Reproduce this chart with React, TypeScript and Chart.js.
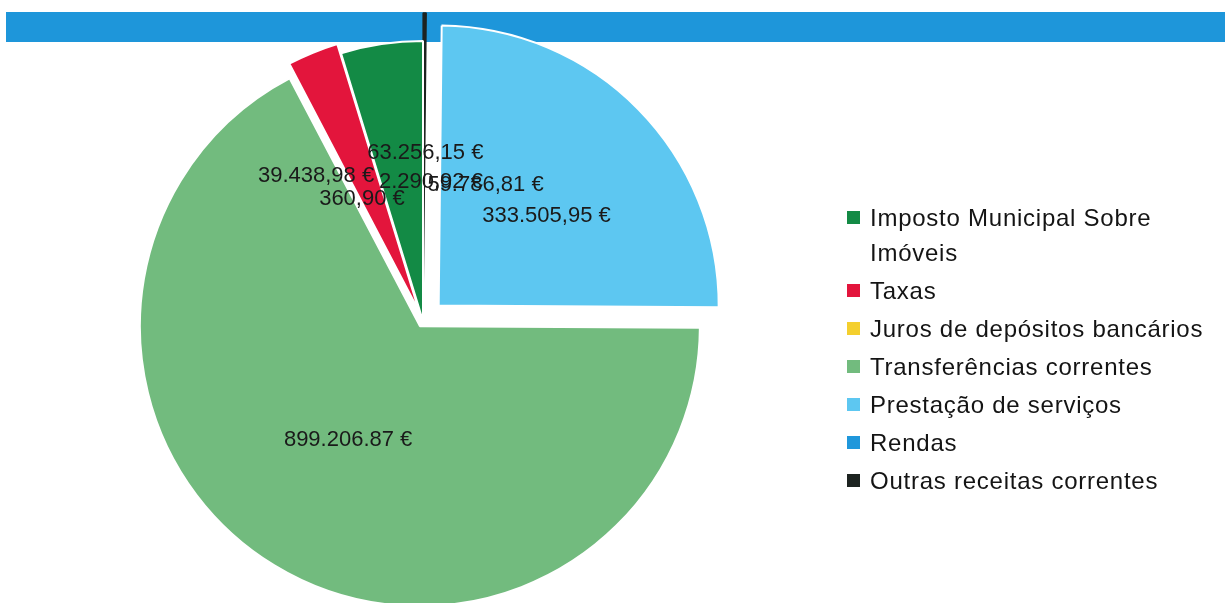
import React, { useEffect, useRef } from "react";
import { Chart, registerables } from "chart.js";

Chart.register(...registerables);

// ---- data ----
const categories = [
  "Imposto Municipal Sobre Imóveis",
  "Taxas",
  "Juros de depósitos bancários",
  "Transferências correntes",
  "Prestação de serviços",
  "Rendas",
  "Outras receitas correntes",
];
const legendLines = [
  ["Imposto Municipal Sobre", "Imóveis"],
  ["Taxas"],
  ["Juros de depósitos bancários"],
  ["Transferências correntes"],
  ["Prestação de serviços"],
  ["Rendas"],
  ["Outras receitas correntes"],
];
const values = [63256.15, 39438.98, 360.9, 899206.87, 333505.95, 59786.81, 2290.92];
const valueLabels = [
  "63.256,15 €",
  "39.438,98 €",
  "360,90 €",
  "899.206.87 €",
  "333.505,95 €",
  "59.786,81 €",
  "2.290,92 €",
];
// the Rendas slice is not drawn in the reference pie (only its label is shown)
const hiddenSlices = ["Rendas"];

// ---- styles ----
const colors = ["#138a45", "#e3153c", "#f4cf2e", "#72bb7e", "#5dc7f1", "#1f97db", "#1d2320"];
const borderColors = ["#ffffff", "#ffffff", "#ffffff", "#ffffff", "#ffffff", "#ffffff", "#1d2320"];
const borderWidths = [2, 2, 2, 2, 2, 2, 1.5];
// explosion distance (px) of each slice along its mid angle
const explode = [0, 10, 0, 6, 22, 0, 28];
const labelNudge: [number, number][] = [
  [23, -30],
  [-50, -6],
  [4, 2],
  [1, -6],
  [8, 9],
  [61, 4],
  [7, 29],
];

export default function App() {
  const ref = useRef<HTMLCanvasElement | null>(null);

  useEffect(() => {
    document.body.style.margin = "0";
    const canvas = ref.current;
    if (!canvas) return;
    // the pie runs counter-clockwise in the reference: feed reversed order
    const order = categories.map((_, i) => i).reverse();

    const explodePlugin = {
      id: "explodeAndLabels",
      afterInit(chart: any) {
        order.forEach((src, j) => {
          if (hiddenSlices.includes(categories[src])) chart.toggleDataVisibility(j);
        });
      },
      afterUpdate(chart: any) {
        const meta = chart.getDatasetMeta(0);
        meta.data.forEach((arc: any, j: number) => {
          const shift = explode[order[j]];
          if (!shift || arc.__exploded) return;
          const orig = arc.draw;
          arc.draw = function (ctx: CanvasRenderingContext2D, area: any) {
            const mid = (this.startAngle + this.endAngle) / 2;
            ctx.save();
            ctx.translate(Math.cos(mid) * shift, Math.sin(mid) * shift);
            orig.call(this, ctx, area);
            ctx.restore();
          };
          arc.__exploded = true;
        });
      },
      afterDatasetsDraw(chart: any) {
        const ctx = chart.ctx;
        const meta = chart.getDatasetMeta(0);
        ctx.save();
        ctx.font = "22px 'Liberation Sans', Arial, sans-serif";
        ctx.fillStyle = "#1a1a1a";
        ctx.textAlign = "center";
        ctx.textBaseline = "middle";
        meta.data.forEach((arc: any, j: number) => {
          const src = order[j];
          const p = arc.getCenterPoint();
          const mid = (arc.startAngle + arc.endAngle) / 2;
          const shift = explode[src];
          const [dx, dy] = labelNudge[src];
          ctx.fillText(
            valueLabels[src],
            p.x + Math.cos(mid) * shift + dx,
            p.y + Math.sin(mid) * shift + dy
          );
        });
        ctx.restore();
      },
    };

    const chart = new Chart(canvas, {
      type: "pie",
      data: {
        labels: order.map((i) => categories[i]),
        datasets: [
          {
            data: order.map((i) => values[i]),
            backgroundColor: order.map((i) => colors[i]),
            borderColor: order.map((i) => borderColors[i]),
            borderWidth: order.map((i) => borderWidths[i]),
            radius: 280,
          } as any,
        ],
      },
      options: {
        responsive: false,
        animation: false,
        devicePixelRatio: 1,
        layout: { padding: { left: 0, right: 379, top: 39, bottom: 0 } },
        plugins: {
          legend: { display: false },
          tooltip: { enabled: false },
        },
      },
      plugins: [explodePlugin],
    });
    return () => chart.destroy();
  }, []);

  return (
    <div style={{ position: "relative", width: 1225, height: 603, overflow: "hidden", background: "#ffffff" }}>
      <div
        style={{
          position: "absolute",
          left: 6,
          top: 12,
          width: 1219,
          height: 30,
          background: "#1e96da",
        }}
      />
      <canvas ref={ref} width={1225} height={603} style={{ position: "absolute", left: 0, top: 0 }} />
      <div
        style={{
          position: "absolute",
          left: 847,
          top: 200,
          fontFamily: "'Liberation Sans', Arial, sans-serif",
          fontSize: 24,
          letterSpacing: 0.75,
          color: "#141414",
          lineHeight: "35px",
        }}
      >
        {categories.map((c, i) => (
          <div key={c} style={{ display: "flex", alignItems: "flex-start", marginBottom: 3 }}>
            <div
              style={{
                width: 13,
                height: 13,
                background: colors[i],
                marginTop: 11,
                marginRight: 10,
                flex: "0 0 auto",
              }}
            />
            <div>
              {legendLines[i].map((l) => (
                <div key={l}>{l}</div>
              ))}
            </div>
          </div>
        ))}
      </div>
    </div>
  );
}
